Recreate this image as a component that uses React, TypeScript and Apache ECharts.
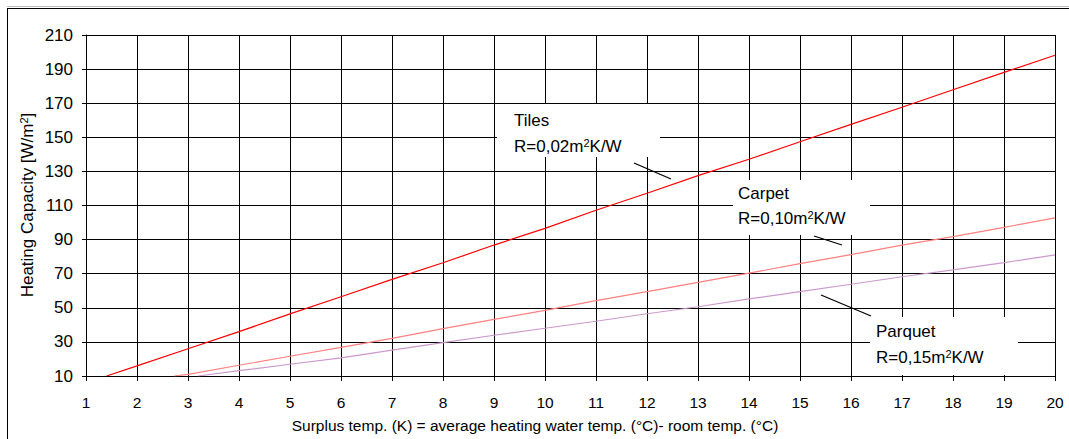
import React, { useEffect, useRef } from "react";
import * as echarts from "echarts";

const xTicks = [1, 2, 3, 4, 5, 6, 7, 8, 9, 10, 11, 12, 13, 14, 15, 16, 17, 18, 19, 20];
const yTicks = [10, 30, 50, 70, 90, 110, 130, 150, 170, 190, 210];

const tilesX = [1.405, 2, 3, 4, 5, 6, 7, 8, 9, 10, 11, 12, 13, 14, 15, 16, 17, 18, 19, 20];
const tilesY = [10, 15.9, 26.0, 36.0, 46.4, 56.5, 66.7, 76.4, 86.8, 96.6, 107.2, 117.2, 127.5, 137.1, 147.4, 157.6, 167.6, 177.9, 188.1, 198.1];

const carpetX = [2.73, 3, 4, 5, 6, 7, 8, 9, 10, 11, 12, 13, 14, 15, 16, 17, 18, 19, 20];
const carpetY = [10, 11.0, 16.3, 21.6, 26.8, 32.1, 37.8, 43.2, 48.5, 54.2, 59.5, 64.9, 70.3, 75.9, 81.2, 86.8, 91.7, 97.2, 102.7];

const parquetX = [3.2, 4, 5, 6, 7, 8, 9, 10, 11, 12, 13, 14, 15, 16, 17, 18, 19, 20];
const parquetY = [10, 13.1, 16.9, 20.6, 25.2, 29.6, 33.9, 38.0, 42.1, 46.5, 50.6, 55.2, 59.5, 63.8, 68.2, 72.2, 76.5, 81.0];

const xTitle = "Surplus temp. (K) = average heating water temp. (°C)- room temp. (°C)";
const yTitle = "Heating Capacity [W/m{sup|2}]";

const FONT = "Arial, 'Liberation Sans', sans-serif";

const zip = (xs: number[], ys: number[]) => xs.map((x, i) => [x, ys[i]]);

const supStyle = { fontSize: 11, fontFamily: FONT, verticalAlign: "top", lineHeight: 18, fill: "#000" };

function label(
  boxX: number, boxY: number, boxW: number, boxH: number,
  textX: number, y1: number, y2: number, name: string, r: string,
  lx1: number, ly1: number, lx2: number, ly2: number
) {
  return [
    {
      type: "rect",
      z: 100,
      shape: { x: boxX, y: boxY, width: boxW, height: boxH },
      style: { fill: "#ffffff" },
    },
    {
      type: "text",
      z: 101,
      x: textX,
      y: y1,
      style: { text: name, font: `17px ${FONT}`, fill: "#000", verticalAlign: "middle", align: "left" },
    },
    {
      type: "text",
      z: 101,
      x: textX,
      y: y2,
      style: {
        text: `R=${r}m{sup|2}K/W`,
        font: `17px ${FONT}`,
        fill: "#000",
        verticalAlign: "middle",
        align: "left",
        rich: { sup: supStyle },
      },
    },
    {
      type: "line",
      z: 101,
      shape: { x1: lx1, y1: ly1, x2: lx2, y2: ly2 },
      style: { stroke: "#000", lineWidth: 1.3 },
    },
  ];
}

export default function App() {
  const ref = useRef<HTMLDivElement>(null);
  useEffect(() => {
    const chart = echarts.init(ref.current!, null, { renderer: "svg" });
    chart.setOption({
      animation: false,
      backgroundColor: "#ffffff",
      grid: { left: 86, top: 35, right: 14, bottom: 63, containLabel: false },
      xAxis: {
        type: "value",
        min: 1,
        max: 20,
        interval: 1,
        axisLine: { show: true, lineStyle: { color: "#000", width: 1 } },
        axisTick: { show: true, length: 5, lineStyle: { color: "#000" }, customValues: xTicks },
        axisLabel: { color: "#000", fontSize: 15.5, fontFamily: FONT, margin: 18, customValues: xTicks },
        splitLine: { show: true, lineStyle: { color: "#000", width: 1 } },
      },
      yAxis: {
        type: "value",
        min: 10,
        max: 210,
        axisLine: { show: true, lineStyle: { color: "#000", width: 1 } },
        axisTick: { show: true, length: 4, lineStyle: { color: "#000" }, customValues: yTicks },
        axisLabel: { color: "#000", fontSize: 17, fontFamily: FONT, margin: 13, customValues: yTicks },
        splitLine: { show: true, lineStyle: { color: "#000", width: 1 } },
      },
      series: [
        {
          name: "Tiles",
          type: "line",
          data: zip(tilesX, tilesY),
          showSymbol: false,
          lineStyle: { color: "#ff0000", width: 1.2 },
          itemStyle: { color: "#ff0000" },
        },
        {
          name: "Carpet",
          type: "line",
          data: zip(carpetX, carpetY),
          showSymbol: false,
          lineStyle: { color: "#ff8080", width: 1.2 },
          itemStyle: { color: "#ff8080" },
        },
        {
          name: "Parquet",
          type: "line",
          data: zip(parquetX, parquetY),
          showSymbol: false,
          lineStyle: { color: "#cc99cc", width: 1.2 },
          itemStyle: { color: "#cc99cc" },
        },
      ],
      graphic: [
        { type: "line", z: 100, shape: { x1: 7, y1: 6.5, x2: 1069, y2: 6.5 }, style: { stroke: "#bbbbbb", lineWidth: 1 } },
        { type: "line", z: 100, shape: { x1: 7, y1: 8.5, x2: 1069, y2: 8.5 }, style: { stroke: "#000", lineWidth: 1 } },
        { type: "line", z: 100, shape: { x1: 7.5, y1: 8, x2: 7.5, y2: 439 }, style: { stroke: "#000", lineWidth: 1 } },
        ...label(497, 104, 163, 53, 514, 120, 146, "Tiles", "0,02", 634, 163, 671, 179),
        ...label(733, 180, 137, 55, 738, 193, 218, "Carpet", "0,10", 814, 236, 842, 245),
        ...label(870, 317, 148, 58, 876, 331, 357, "Parquet", "0,15", 821, 295, 871, 316),
        {
          type: "text",
          z: 101,
          x: 535,
          y: 425,
          style: { text: xTitle, font: `15.5px ${FONT}`, fill: "#000", align: "center", verticalAlign: "middle" },
        },
        {
          type: "text",
          z: 101,
          x: 27,
          y: 205,
          rotation: Math.PI / 2,
          style: {
            text: yTitle,
            font: `17px ${FONT}`,
            fill: "#000",
            align: "center",
            verticalAlign: "middle",
            rich: { sup: supStyle },
          },
        },
      ],
    });
    return () => chart.dispose();
  }, []);
  return <div ref={ref} style={{ position: "fixed", left: 0, top: 0, width: 1069, height: 439 }} />;
}
